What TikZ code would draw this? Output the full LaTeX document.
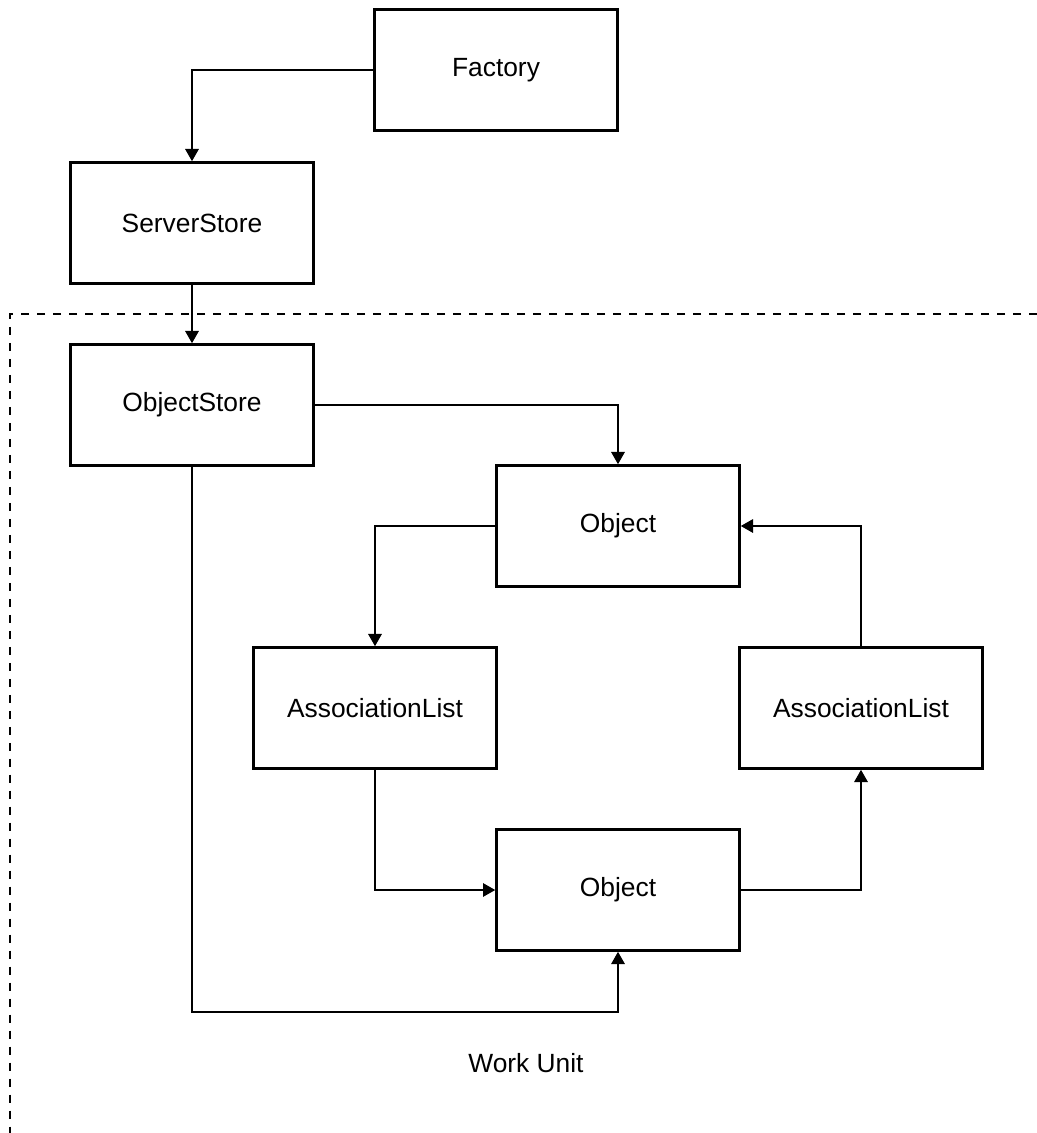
\documentclass[tikz,border=0pt]{standalone}
\usepackage{fontspec}
\setmainfont{Liberation Sans}
\usetikzlibrary{arrows.meta}

\begin{document}
\begin{tikzpicture}[x=0.02cm,y=-0.02cm,line width=1.4pt,
	box/.style={draw,rectangle,minimum width=4.86cm,minimum height=2.42cm,font=\fontsize{15}{18}\selectfont},
	link/.style={-{Triangle[length=7pt,width=7.5pt]}}]
		\useasboundingbox (0,0) rectangle (1037,1133);
		\path (496,70) node(factory)[box] {Factory}
		(192,223) node(server)[box] {ServerStore}
		(192,405) node(store)[box] {ObjectStore}
		(618,526) node(objA)[box] {Object}
		(375,708) node(listL)[box] {AssociationList}
		(861,708) node(listR)[box] {AssociationList}
		(618,890) node(objB)[box] {Object}
		(526,1063) node(unit)[font=\fontsize{15}{18}\selectfont] {Work Unit};
		% work unit border
		\draw[dash pattern=on 0.16cm off 0.16cm] (1037,314) -- (10,314) -- (10,1133);
		\draw[link] (factory.west) -| (server.north);
		\draw[link] (server) -- (store);
		\draw[link] (store.east) -| (objA.north);
		\draw[link] (objA.west) -| (listL.north);
		\draw[link] (listL.south) |- (objB.west);
		\draw[link] (objB.east) -| (listR.south);
		\draw[link] (listR.north) |- (objA.east);
		\draw[link] (store.south) |- (618,1012) -- (objB.south);
	\end{tikzpicture}
\end{document}
